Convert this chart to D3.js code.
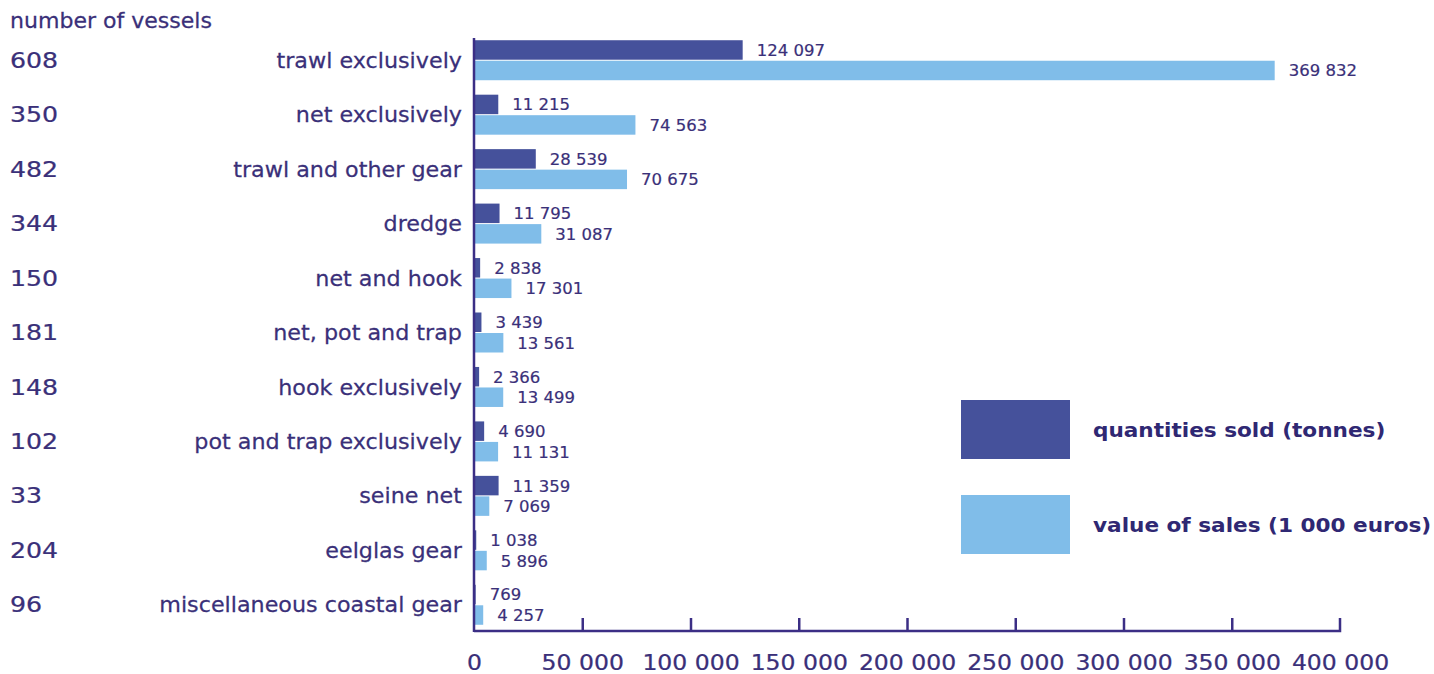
<!DOCTYPE html>
<html><head><meta charset="utf-8">
<script src="https://cdn.jsdelivr.net/npm/d3@7"></script>
<style>body{margin:0;background:#fff}svg{display:block}text{font-family:"DejaVu Sans",sans-serif}</style>
</head><body>
<svg id="c" width="1434" height="674"></svg>
<script>
const categories = ["trawl exclusively","net exclusively","trawl and other gear","dredge","net and hook","net, pot and trap","hook exclusively","pot and trap exclusively","seine net","eelglas gear","miscellaneous coastal gear"];
const vessels = [608,350,482,344,150,181,148,102,33,204,96];
const quantities = [124097,11215,28539,11795,2838,3439,2366,4690,11359,1038,769];
const salesValues = [369832,74563,70675,31087,17301,13561,13499,11131,7069,5896,4257];
const xTicks = [0,50000,100000,150000,200000,250000,300000,350000,400000];
const seriesNames = ["quantities sold (tonnes)","value of sales (1 000 euros)"];

const dark = "#45519b", light = "#80bde9", ink = "#3a3079", axisCol = "#3b2e85";
const loc = d3.formatLocale({decimal:".", thousands:" ", grouping:[3], currency:["",""]});
const fmt = loc.format(",d");

const svg = d3.select("#c");
const x = d3.scaleLinear().domain([0,400000]).range([474,1340]);
const y = d3.scaleBand().domain(categories).range([33,632]);
const sub = d3.scaleBand().domain(["q","v"]).range([y.bandwidth()/2-20, y.bandwidth()/2+20]).paddingInner(0.05);

const rows = categories.map((c,i)=>({c, n:vessels[i], q:quantities[i], v:salesValues[i]}));

const g = svg.append("g");
rows.forEach(r=>{
  [["q",dark],["v",light]].forEach(([k,col])=>{
    const y0 = y(r.c)+sub(k);
    g.append("rect").attr("x",x(0)).attr("y",y0).attr("width",x(r[k])-x(0)).attr("height",sub.bandwidth()).attr("fill",col);
    g.append("text").attr("x",x(r[k])+14).attr("y",y0+sub.bandwidth()/2).attr("dy","0.36em")
      .attr("font-size",16.5).attr("fill",ink).attr("stroke",ink).attr("stroke-width",0.2).text(fmt(r[k]));
  });
  svg.append("text").attr("transform",`translate(462,${y(r.c)+y.bandwidth()/2}) scale(1.06,1)`).attr("dy","0.36em")
    .attr("text-anchor","end").attr("font-size",21).attr("fill",ink).attr("stroke",ink).attr("stroke-width",0.25).text(r.c);
  svg.append("text").attr("transform",`translate(10,${y(r.c)+y.bandwidth()/2}) scale(1.2,1)`).attr("dy","0.36em")
    .attr("font-size",21).attr("fill",ink).attr("stroke",ink).attr("stroke-width",0.25).text(r.n);
});

svg.append("text").attr("transform","translate(10,20) scale(1.05,1)").attr("dy","0.36em").attr("font-size",21)
  .attr("fill",ink).attr("stroke",ink).attr("stroke-width",0.25).text("number of vessels");

const ax = svg.append("g").attr("transform","translate(0,631)")
  .call(d3.axisBottom(x).tickValues(xTicks).tickSize(-13).tickFormat(fmt));
ax.select(".domain").attr("stroke",axisCol).attr("stroke-width",2.5).attr("d","M474,0H1340V-13");
ax.selectAll(".tick line").attr("stroke",axisCol).attr("stroke-width",2.5);
ax.selectAll(".tick text").attr("fill",ink).attr("stroke",ink).attr("stroke-width",0.25).attr("font-size",21).attr("font-family","'DejaVu Sans',sans-serif")
  .attr("y",0).attr("dy","0.36em").attr("transform","translate(0,31) scale(1.12,1)");
ax.selectAll(".tick").filter(d=>d===0||d===400000).select("line").remove();
svg.append("line").attr("x1",474).attr("x2",474).attr("y1",38).attr("y2",632).attr("stroke",axisCol).attr("stroke-width",2.5);

const lg = svg.append("g");
[[dark,400],[light,495]].forEach(([col,yy],i)=>{
  lg.append("rect").attr("x",961).attr("y",yy).attr("width",109).attr("height",59).attr("fill",col);
  lg.append("text").attr("transform",`translate(1093,${yy+30}) scale(1.08,1)`).attr("dy","0.36em").attr("font-size",20).attr("font-weight","bold")
    .attr("fill","#2f2873").text(seriesNames[i]);
});
</script>
</body></html>
